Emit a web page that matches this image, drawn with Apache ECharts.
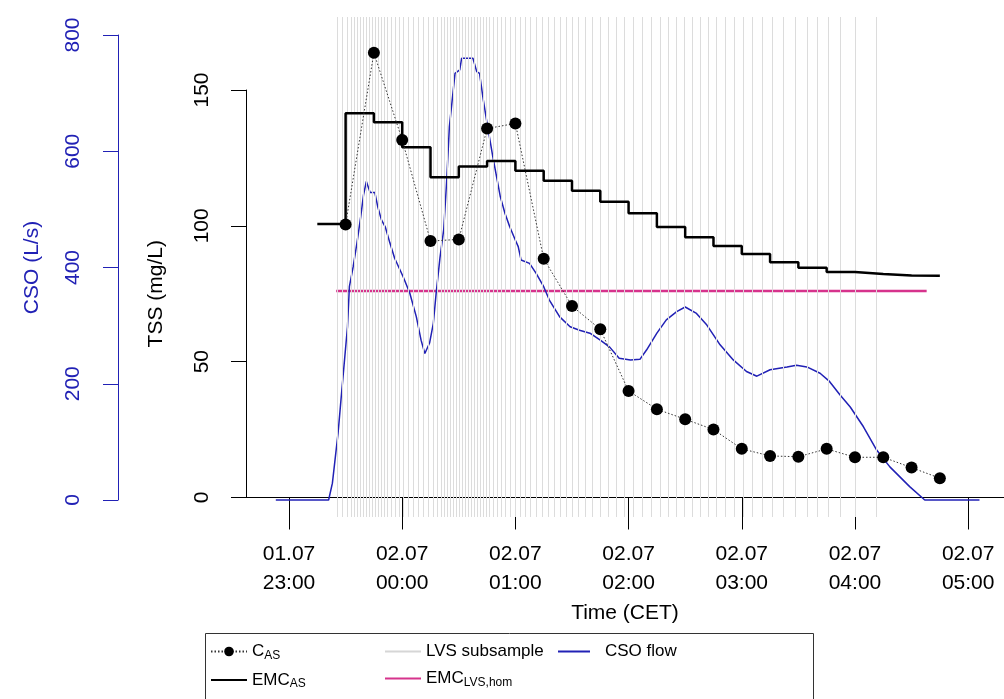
<!DOCTYPE html>
<html>
<head>
<meta charset="utf-8">
<script src="https://cdn.jsdelivr.net/npm/echarts@6/dist/echarts.min.js"></script>
<style>
  html, body { margin: 0; padding: 0; background: #fff; }
  #chart { width: 1004px; height: 699px; }
</style>
</head>
<body>
<div id="chart"></div>
<script>
// times are minutes from 02.07 00:00 (negative = evening of 01.07)

// CSO flow (L/s)
const flowT = [-67, -39, -37, -34, -32, -29, -28, -26, -24, -22, -20.5, -19, -17, -14.5, -13, -11, -9, -6.5, -4, 0.5,
  4, 7.5, 10, 12, 14.5, 16.5, 18, 20, 22, 23.5, 25, 28, 30.5, 31.5, 37.5, 39.5, 41, 43, 45, 48,
  52, 54.5, 57, 60, 61.5, 63, 67.5, 71, 75, 78, 83.5, 89, 94, 99.5, 105, 110, 115, 121, 126, 129.5,
  135, 140, 145.5, 150, 156, 161.5, 168.5, 175.5, 182.5, 188, 195, 204, 209, 214.5, 221.5, 226.5, 232, 237.5, 244.5, 251.5,
  258.5, 269, 277, 306];
const flowQ = [0, 0, 29, 115, 189, 298, 367, 401, 442, 487, 525, 548, 529, 529, 505, 482, 470, 442, 416, 384,
  356, 315, 275, 252, 270, 304, 356, 416, 465, 545, 642, 734, 740, 760, 760, 737, 734, 688, 648, 591,
  522, 493, 470, 447, 436, 413, 407, 390, 367, 344, 315, 298, 292, 287, 275, 263, 244, 241, 242, 258,
  287, 310, 324, 332, 321, 301, 267, 241, 221, 213, 224, 229, 232, 229, 218, 204, 181, 160, 126, 86,
  57, 23, 0, 0];

// C_AS samples (mg/L)
const casTime = ['23:30', '23:45', '00:00', '00:15', '00:30', '00:45', '01:00', '01:15', '01:30', '01:45', '02:00',
  '02:15', '02:30', '02:45', '03:00', '03:15', '03:30', '03:45', '04:00', '04:15', '04:30', '04:45'];
const casVal = [100.5, 163.7, 131.6, 94.4, 95.0, 135.8, 137.7, 87.9, 70.5, 61.9, 39.2,
  32.5, 28.8, 25.0, 17.9, 15.3, 15.0, 17.9, 14.8, 14.8, 11.0, 7.1];

// EMC_AS (running event mean, mg/L)
const emcTime = ['23:15', '23:30', '23:45', '00:00', '00:15', '00:30', '00:45', '01:00', '01:15', '01:30', '01:45', '02:00',
  '02:15', '02:30', '02:45', '03:00', '03:15', '03:30', '03:45', '04:00', '04:15', '04:30', '04:45'];
const emcVal = [100.7, 141.4, 138.1, 128.9, 117.9, 121.8, 123.9, 120.3, 116.6, 112.9, 108.9, 104.6,
  99.6, 95.8, 92.6, 89.6, 86.6, 84.6, 83.0, 82.3, 81.7, 81.6, 81.6];

// EMC_LVS,hom
const lvsHomT = [-35, 278];
const lvsHomVal = [76, 76];

// LVS subsample times
const lvsT = [-34.6, -31.9, -29.3, -27.1, -25.5, -24.0, -22.4, -20.8, -19.2, -17.6, -16.0, -14.4, -12.8, -11.2, -9.6, -8.1,
  -5.9, -3.8, -1.7, 0.4, 3.1, 5.7, 8.4, 11.0, 13.7, 16.3, 18.4, 20.6, 22.2, 23.7, 25.3, 26.9, 28.5, 30.1, 31.7, 33.3,
  34.9, 36.5, 38.1, 39.6, 41.2, 42.8, 44.4, 46.0, 48.1, 50.2, 52.4, 54.5, 57.1, 59.8, 62.4, 65.1, 67.7, 70.9, 74.1,
  77.3, 80.5, 83.6, 86.8, 90.0, 93.2, 96.9, 100.6, 104.8, 109.1, 113.3, 117.6, 122.3, 127.1, 131.9, 136.6, 140.9,
  145.1, 149.4, 153.6, 157.9, 162.1, 166.3, 171.1, 175.9, 180.7, 185.5, 190.8, 196.1, 201.9, 208.3, 214.6, 219.9,
  225.8, 232.1, 240.1, 251.2];

// x axis ticks
const tickT = [-60, 0, 60, 120, 180, 240, 300];

const FONT = 'Liberation Sans, Arial, sans-serif';
const BLUE = '#2121b5';

function toMin(s) {
  const p = s.split(':');
  let m = +p[0] * 60 + +p[1];
  if (m >= 12 * 60) m -= 24 * 60;
  return m;
}
function fmtTime(v) {
  const day = v < 0 ? '01.07' : '02.07';
  const m = ((v % 1440) + 1440) % 1440;
  const hh = String(Math.floor(m / 60)).padStart(2, '0');
  const mm = String(Math.round(m % 60)).padStart(2, '0');
  return day + '\n' + hh + ':' + mm;
}
const pairs = (xs, ys) => xs.map((x, i) => [x, ys[i]]);

const legendNames = {
  'C_AS': '{m|C}{s|AS}',
  'EMC_AS': '{m|EMC}{s|AS}',
  'EMC_LVS,hom': '{m|EMC}{s|LVS,hom}'
};
const noDot = { opacity: 0 };
const legendBase = {
  orient: 'vertical',
  itemWidth: 36,
  itemHeight: 12,
  itemGap: 10,
  formatter: n => legendNames[n] || '{m|' + n + '}',
  textStyle: {
    fontFamily: FONT,
    color: '#000',
    rich: {
      m: { fontSize: 17, lineHeight: 20, fontFamily: FONT, color: '#000' },
      s: { fontSize: 12, lineHeight: 10, verticalAlign: 'bottom', fontFamily: FONT, color: '#000' }
    }
  }
};

const chart = echarts.init(document.getElementById('chart'));

chart.setOption({
  animation: false,
  backgroundColor: '#fff',
  textStyle: { fontFamily: FONT },
  grid: [
    { left: 246, right: 0, top: 17, bottom: 182 },
    { left: 246, top: 90, height: 407.5, width: 10 },
    { left: 118, top: 35, height: 465, width: 10 }
  ],
  xAxis: [
    {
      gridIndex: 0, type: 'value', min: -82.8, max: 319,
      axisLine: { lineStyle: { color: '#000', width: 1 } },
      axisTick: { customValues: tickT, length: 32, lineStyle: { color: '#000' } },
      axisLabel: { customValues: tickT, formatter: fmtTime, fontSize: 21, lineHeight: 29, color: '#000', margin: 23, fontFamily: FONT },
      splitLine: { show: false },
      name: 'Time (CET)', nameLocation: 'middle', nameGap: 84,
      nameTextStyle: { fontSize: 21, color: '#000', fontFamily: FONT }
    },
    { gridIndex: 1, type: 'value', min: 0, max: 1, show: false },
    { gridIndex: 2, type: 'value', min: 0, max: 1, show: false }
  ],
  yAxis: [
    { gridIndex: 0, type: 'value', min: -7.18, max: 176.87, show: false },
    { gridIndex: 0, type: 'value', min: -29.25, max: 830.97, show: false },
    {
      gridIndex: 1, type: 'value', min: 0, max: 150, interval: 50,
      axisLine: { show: true, lineStyle: { color: '#000', width: 1 } },
      axisTick: { show: true, length: 15, lineStyle: { color: '#000' } },
      axisLabel: { rotate: 90, fontSize: 21, color: '#000', margin: 33, fontFamily: FONT },
      splitLine: { show: false },
      name: 'TSS (mg/L)', nameLocation: 'middle', nameRotate: 90, nameGap: 79,
      nameTextStyle: { fontSize: 21, color: '#000', fontFamily: FONT }
    },
    {
      gridIndex: 2, type: 'value', min: 0, max: 800, interval: 200,
      axisLine: { show: true, lineStyle: { color: BLUE, width: 1 } },
      axisTick: { show: true, length: 15, lineStyle: { color: BLUE } },
      axisLabel: { rotate: 90, fontSize: 21, color: BLUE, margin: 34, fontFamily: FONT },
      splitLine: { show: false },
      name: 'CSO (L/s)', nameLocation: 'middle', nameRotate: 90, nameGap: 75,
      nameTextStyle: { fontSize: 21, color: BLUE, fontFamily: FONT }
    }
  ],
  legend: [
    Object.assign({}, legendBase, { left: 205, top: 638,
      data: ['C_AS', { name: 'EMC_AS', itemStyle: noDot }] }),
    Object.assign({}, legendBase, { left: 379, top: 638,
      data: [{ name: 'LVS subsample', itemStyle: noDot }, { name: 'EMC_LVS,hom', itemStyle: noDot }] }),
    Object.assign({}, legendBase, { left: 552, top: 638, itemWidth: 32,
      data: [{ name: 'CSO flow', itemStyle: noDot, textStyle: { padding: [0, 0, 0, 10] } }] })
  ],
  graphic: [
    { type: 'rect', left: 203, top: 631, shape: { width: 608, height: 80 },
      style: { fill: 'none', stroke: '#333', lineWidth: 1 }, silent: true }
  ],
  series: [
    {
      name: 'LVS subsample', type: 'line', xAxisIndex: 0, yAxisIndex: 0, data: [],
      symbol: 'none', z: 1,
      lineStyle: { color: '#d6d6d6', width: 1 }, itemStyle: { color: '#d6d6d6' },
      markLine: {
        silent: true, symbol: ['none', 'none'], label: { show: false },
        lineStyle: { color: '#dcdcdc', width: 1, type: 'solid' },
        emphasis: { disabled: true },
        data: lvsT.map(t => ({ xAxis: t }))
      }
    },
    {
      name: 'EMC_LVS,hom', type: 'line', xAxisIndex: 0, yAxisIndex: 0,
      data: pairs(lvsHomT, lvsHomVal), symbol: 'none', z: 3,
      lineStyle: { color: '#d6338c', width: 2.5 }, itemStyle: { color: '#d6338c' }
    },
    {
      name: 'CSO flow', type: 'line', xAxisIndex: 0, yAxisIndex: 1,
      data: pairs(flowT, flowQ), symbol: 'none', z: 4,
      lineStyle: { color: BLUE, width: 1.5 }, itemStyle: { color: BLUE }
    },
    {
      name: 'EMC_AS', type: 'line', xAxisIndex: 0, yAxisIndex: 0, step: 'end',
      data: pairs(emcTime.map(toMin), emcVal), symbol: 'none', z: 5,
      lineStyle: { color: '#000', width: 2.5 }, itemStyle: { color: '#000' }
    },
    {
      name: 'C_AS', type: 'line', xAxisIndex: 0, yAxisIndex: 0,
      data: pairs(casTime.map(toMin), casVal), symbol: 'circle', symbolSize: 12, z: 6,
      lineStyle: { color: '#333', width: 1, type: [1.5, 2] },
      itemStyle: { color: '#000' }
    }
  ]
});
</script>
</body>
</html>
